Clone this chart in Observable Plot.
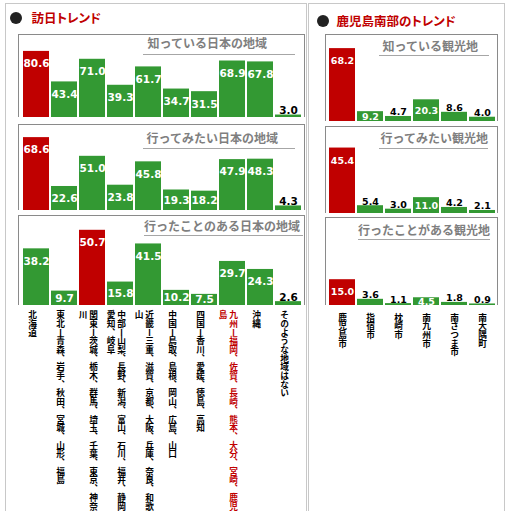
<!DOCTYPE html>
<html><head><meta charset="utf-8">
<script src="https://cdn.jsdelivr.net/npm/d3@7"></script>
<script src="https://cdn.jsdelivr.net/npm/@observablehq/plot@0.6"></script>
<style>
html,body{margin:0;padding:0;background:#fff;}
#root{position:relative;width:509px;height:511px;overflow:hidden;font-family:"Noto Sans CJK JP","Noto Sans",sans-serif;}
.box{position:absolute;border:1px solid #c8c8c8;box-sizing:border-box;}
.frame{position:absolute;border:1px solid #8a8a8a;border-bottom:none;box-sizing:border-box;}
.h1{position:absolute;color:#c00000;font-weight:bold;font-size:12.5px;font-feature-settings:"palt";line-height:13px;white-space:nowrap;}
.dot{position:absolute;width:12px;height:12px;border-radius:50%;background:#222;}
.ptitle{position:absolute;color:#7f7f7f;font-weight:bold;font-size:12px;line-height:12px;border-bottom:1.5px solid #a6a6a6;text-align:right;white-space:nowrap;box-sizing:border-box;}
.plot{position:absolute;}
</style></head>
<body><div id="root"></div>
<script>
// ---------- data ----------
const regions = ["北海道","東北ー青森、岩手、秋田、宮城、山形、福島","関東ー茨城、栃木、群馬、埼玉、千葉、東京、神奈川","中部ー山梨、長野、新潟、富山、石川、福井、静岡、愛知、岐阜","近畿ー三重、滋賀、京都、大阪、兵庫、奈良、和歌山","中国ー鳥取、島根、岡山、広島、山口","四国ー香川、愛媛、徳島、高知","九州ー福岡、佐賀、長崎、熊本、大分、宮崎、鹿児島","沖縄","そのような地域はない"];
const knownRegions   = [80.6,43.4,71.0,39.3,61.7,34.7,31.5,68.9,67.8,3.0];
const wantRegions    = [68.6,22.6,51.0,23.8,45.8,19.3,18.2,47.9,48.3,4.3];
const visitedRegions = [38.2,9.7,50.7,15.8,41.5,10.2,7.5,29.7,24.3,2.6];

const spots = ["鹿児島市","指宿市","枕崎市","南九州市","南さつま市","南大隅町"];
const knownSpots   = [68.2,9.2,4.7,20.3,8.6,4.0];
const wantSpots    = [45.4,5.4,3.0,11.0,4.2,2.1];
const visitedSpots = [15.0,3.6,1.1,4.5,1.8,0.9];

const leftTitle = "訪日トレンド";
const rightTitle = "鹿児島南部のトレンド";
const panelTitles = ["知っている日本の地域","行ってみたい日本の地域","行ったことのある日本の地域","知っている観光地","行ってみたい観光地","行ったことがある観光地"];
const highlightRegion = "九州ー福岡、佐賀、長崎、熊本、大分、宮崎、鹿児島";

// ---------- style ----------
const RED = "#c00000", GREEN = "#339933";
const LABEL_FONT = "Noto Sans CJK JP";
const root = document.getElementById("root");
function el(cls, css, text){const d=document.createElement("div");d.className=cls;Object.assign(d.style,css);if(text)d.textContent=text;root.appendChild(d);return d;}

el("box",{left:"5px",top:"3px",width:"302px",height:"530px"});
el("box",{left:"308px",top:"3px",width:"197px",height:"530px"});
el("dot",{left:"10px",top:"11.5px"});
el("h1",{left:"31.5px",top:"11px"},leftTitle);
el("dot",{left:"316.5px",top:"14.5px"});
el("h1",{left:"336.5px",top:"14px"},rightTitle);

function splitColumns(label, n){
  const ch = Array.from(label), cols=[]; let i=0;
  while(i<ch.length){let e=i+n; if(ch[e]==="、") e++; cols.push(ch.slice(i,e).join("")); i=e;}
  return cols;
}

function drawPanel(p){
  el("frame",{left:p.fl+"px",top:p.ft+"px",width:(p.fr-p.fl+1)+"px",height:(p.base-p.ft)+"px"});
  el("ptitle",{left:p.ux0+"px",top:(p.ty-6)+"px",width:(p.ux1-p.ux0)+"px",height:(p.uy-p.ty+7.5)+"px",paddingRight:p.tpad+"px"},p.title);
  const data = p.cats.map((c,i)=>({cat:c,value:p.values[i],i}));
  const max = d3.max(p.values);
  const mt = p.pt - p.ft, H = p.svgBottom - p.ft, mb = p.svgBottom - p.base;
  const k = (p.base - p.pt)/p.ymax;
  const fmt = d=>d.value.toFixed(1);
  const inside = data.filter(d=>!p.outside.includes(d.i));
  const outside = data.filter(d=>p.outside.includes(d.i));
  const marks = [
    Plot.barY(data,{x:"cat",y:"value",fill:d=>d.value===max?RED:GREEN}),
    Plot.text(inside,{x:"cat",y:d=>d.value-Math.min(12.5/k,d.value/2),text:fmt,fill:"white",fontWeight:"bold",fontSize:p.fs,fontFamily:"DejaVu Sans"}),
    Plot.text(outside,{x:"cat",y:"value",text:fmt,fill:"black",fontWeight:"bold",fontSize:p.fs,fontFamily:"DejaVu Sans",lineAnchor:"bottom",dy:-1})
  ];
  if(p.labels){
    const rows=[];
    p.cats.forEach(c=>{const cols=splitColumns(c,23);cols.forEach((s,j)=>rows.push({cat:c,text:s,col:j,n:cols.length}));});
    const opt = dx=>({x:"cat",text:"text",frameAnchor:"bottom",dy:p.ldy,dx,textAnchor:"start",lineAnchor:"top",fontSize:8.7,fontWeight:"bold",fontFamily:LABEL_FONT,fill:d=>d.cat===highlightRegion?RED:"black"});
    marks.push(Plot.text(rows.filter(r=>r.n===1),opt(p.dx1)));
    marks.push(Plot.text(rows.filter(r=>r.n>1&&r.col===0),opt(p.dxm)));
    marks.push(Plot.text(rows.filter(r=>r.n>1&&r.col===1),opt(p.dxs)));
  }
  const svg = Plot.plot({
    width:p.fr-p.fl+1, height:H, marginTop:mt, marginBottom:mb, marginLeft:2, marginRight:1,
    x:{domain:p.cats,axis:null,paddingInner:p.pi,paddingOuter:p.po},
    y:{domain:[0,p.ymax],axis:null},
    color:{type:"identity"},
    style:{background:"transparent",overflow:"visible"},
    marks
  });
  svg.querySelectorAll("text").forEach(t=>{
    const g = t.closest("g");
    const ff = (g && g.getAttribute("font-family")) || t.getAttribute("font-family") || "";
    if(ff.indexOf(LABEL_FONT)>=0){
      t.removeAttribute("y");
      t.setAttribute("writing-mode","tb");
      t.style.writingMode="vertical-rl";
    }
  });
  svg.style.position="absolute"; svg.style.left=p.fl+"px"; svg.style.top=p.ft+"px";
  root.appendChild(svg);
}

const L = {cats:regions,fl:18,fr:304,pi:0.08,po:0.02,fs:10.5,outside:[9],dx1:-4,dxm:1,dxs:-9.5,ldy:5};
const R = {cats:spots,fl:325,fr:497,pi:0.06,po:0.01,fs:9.5,dx1:0,dxm:0,dxs:-10,ldy:7.5};
drawPanel({...L,values:knownRegions,title:panelTitles[0],ft:34,pt:35,base:117,svgBottom:117,ymax:100,ty:43,uy:53,ux0:143,ux1:295,tpad:28});
drawPanel({...L,values:wantRegions,title:panelTitles[1],ft:124,pt:125,base:210,svgBottom:210,ymax:80,ty:138,uy:147,ux0:143,ux1:295,tpad:17});
drawPanel({...L,values:visitedRegions,title:panelTitles[2],ft:215,pt:216,base:305,svgBottom:511,ymax:60,ty:226,uy:234,ux0:144,ux1:303,tpad:6,labels:true});
drawPanel({...R,values:knownSpots,title:panelTitles[3],outside:[2,4,5],ft:34,pt:35.5,base:121,svgBottom:121,ymax:80,ty:46,uy:54,ux0:379,ux1:489,tpad:11});
drawPanel({...R,values:wantSpots,title:panelTitles[4],outside:[1,2,4,5],ft:126,pt:126.5,base:213,svgBottom:213,ymax:60,ty:138,uy:147,ux0:379,ux1:488,tpad:0});
drawPanel({...R,values:visitedSpots,title:panelTitles[5],outside:[1,2,4,5],ft:217,pt:219,base:305,svgBottom:511,ymax:50,ty:230,uy:238,ux0:358,ux1:490,tpad:1,labels:true});
</script></body></html>
